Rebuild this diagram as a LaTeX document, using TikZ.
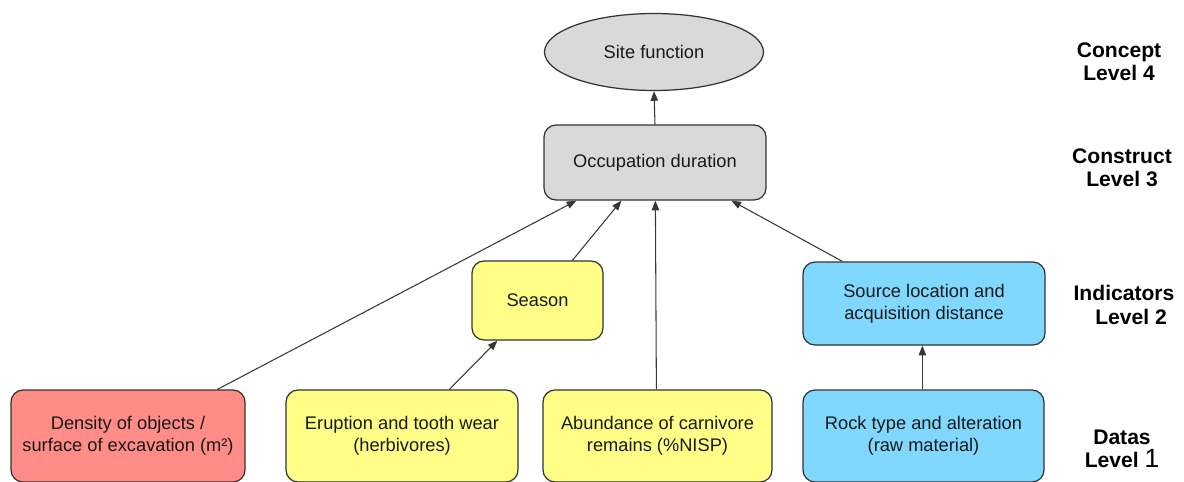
\documentclass[tikz,border=0pt]{standalone}
\usepackage{fontspec}
\setmainfont{Liberation Sans}
\usetikzlibrary{arrows.meta,shapes.geometric,calc}
\definecolor{boxred}{RGB}{255,140,135}
\definecolor{boxyellow}{RGB}{255,255,136}
\definecolor{boxblue}{RGB}{128,216,255}
\definecolor{boxgray}{RGB}{217,217,217}
\definecolor{edgegray}{RGB}{50,50,50}
\definecolor{linegray}{RGB}{55,55,55}
\definecolor{txt}{RGB}{25,25,25}
\begin{document}
\begin{tikzpicture}[x=0.02cm,y=-0.02cm,
  box/.style={draw=edgegray,line width=0.7pt,rounded corners=0.24cm,align=center,
    inner sep=0pt,text=txt,font=\fontsize{10.4}{12.6}\selectfont},
  oval/.style={draw=edgegray,line width=0.7pt,ellipse,inner sep=0pt,text=txt,
    font=\fontsize{10.4}{12.6}\selectfont,fill=boxgray},
  lvl/.style={align=center,font=\fontsize{12}{13.2}\selectfont\bfseries,text=black},
  conn/.style={draw=linegray,line width=0.6pt,-{Triangle[length=5.5pt,width=4.2pt]}}]
\useasboundingbox (0,0) rectangle (1184,481);
% nodes
\node[oval,minimum width=219*0.02cm,minimum height=77*0.02cm] (site) at (654,52) {\raisebox{-2pt}{Site function}};
\node[box,fill=boxgray,minimum width=222*0.02cm,minimum height=75*0.02cm] (occ) at (655,162.5) {Occupation duration};
\node[box,fill=boxyellow,minimum width=131*0.02cm,minimum height=79*0.02cm] (season) at (537.5,300.5) {Season};
\node[box,fill=boxblue,minimum width=242*0.02cm,minimum height=83*0.02cm] (source) at (924,303.5) {Source location and\\acquisition distance};
\node[box,fill=boxred,minimum width=234*0.02cm,minimum height=92*0.02cm] (dens) at (128,436) {Density of objects /\\surface of excavation (m²)};
\node[box,fill=boxyellow,minimum width=232*0.02cm,minimum height=92*0.02cm] (erup) at (402,436) {Eruption and tooth wear\\(herbivores)};
\node[box,fill=boxyellow,minimum width=229*0.02cm,minimum height=92*0.02cm] (abund) at (657.5,436) {Abundance of carnivore\\remains (\%NISP)};
\node[box,fill=boxblue,minimum width=241*0.02cm,minimum height=92*0.02cm] (rock) at (923.5,436) {Rock type and alteration\\(raw material)};
% level labels
\node[lvl] (l4) at (1119,62) {Concept\\Level 4};
\node[lvl] (l3) at (1122,168) {Construct\\Level 3};
\node[lvl] (l2) at (1124,305) {Indicators\\\hspace*{8pt}Level 2};
\node[lvl] (l1) at (1122,449) {Datas\\Level {\fontsize{15}{13.2}\selectfont\mdseries 1}};
% connectors
\draw[conn] (occ.north) -- (site.south);
\draw[conn] ($(dens.north west)+(207,0)$) -- ($(occ.south west)+(33,0)$);
\draw[conn] ($(season.north west)+(101,0)$) -- ($(occ.south west)+(78,0)$);
\draw[conn] ($(abund.north west)+(114,0)$) -- ($(occ.south west)+(112,0)$);
\draw[conn] ($(source.north west)+(40,0)$) -- ($(occ.south west)+(188,0)$);
\draw[conn] ($(erup.north west)+(164,0)$) -- ($(season.south west)+(26,0)$);
\draw[conn] ($(rock.north west)+(120,0)$) -- ($(source.south west)+(120,0)$);
\end{tikzpicture}
\end{document}
